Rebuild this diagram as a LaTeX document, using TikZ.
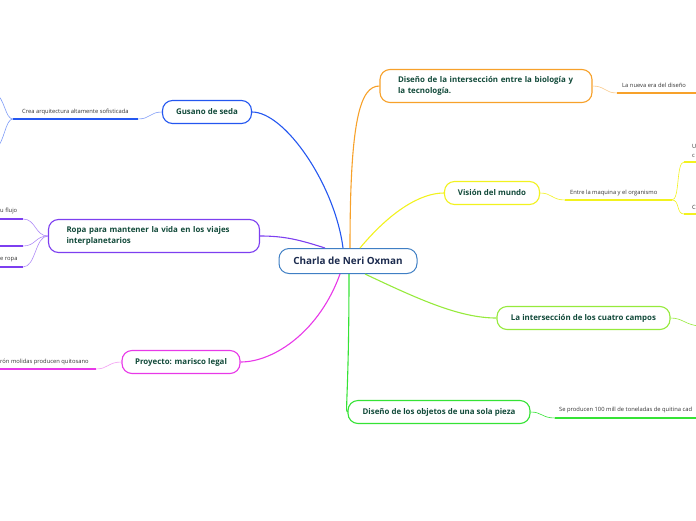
\documentclass[tikz,border=0pt]{standalone}
\usepackage{fontspec}
\setmainfont{Open Sans}
\usepackage{tikz}
\usepackage{xcolor}

\definecolor{rootline}{HTML}{3F7FC4}
\definecolor{roottext}{HTML}{1C2B4E}
\definecolor{nodetext}{HTML}{124A3A}
\definecolor{silk}{HTML}{2457F0}
\definecolor{silklight}{HTML}{7E9BF7}
\definecolor{suit}{HTML}{7D3FF0}
\definecolor{suitlight}{HTML}{B08CF7}
\definecolor{shell}{HTML}{E838E8}
\definecolor{shelllight}{HTML}{F29CF2}
\definecolor{design}{HTML}{F7A12A}
\definecolor{designlight}{HTML}{F9C98A}
\definecolor{vision}{HTML}{F2F21E}
\definecolor{fields}{HTML}{96EA3C}
\definecolor{piece}{HTML}{35E335}

\tikzset{
  rootbox/.style={draw=rootline, line width=1pt, rounded corners=10pt, fill=white, text=roottext,
    font=\fontsize{9.9}{11}\selectfont\bfseries, minimum height=25pt, inner sep=0pt},
  mainbox/.style={draw=#1, line width=1.1pt, rounded corners=10pt, fill=white, text=nodetext,
    font=\fontsize{7.9}{11}\selectfont\bfseries, minimum height=23pt, inner sep=0pt},
  leaf/.style={font=\fontsize{5.8}{6}\selectfont, text=black!80, inner sep=0pt, anchor=west},
  branch/.style={draw=#1, line width=1.1pt},
  twig/.style={draw=#1, line width=0.6pt},
  bar/.style={draw=#1, line width=1.6pt},
}

\begin{document}
\begin{tikzpicture}[x=1pt, y=-1pt]
    \useasboundingbox (0,0) rectangle (696,520);
    % Centre
    \node[rootbox, minimum width=138pt] (root) at (348,261) {Charla de Neri Oxman};
    % Main topics
    \node[mainbox=silk, minimum width=89pt] (gusano) at (207,112) {Gusano de seda};
    \node[mainbox=suit, text width=175pt, align=left, inner xsep=18pt, minimum height=33pt] (ropa) at (154,236)
        {Ropa para mantener la vida en los viajes\\interplanetarios};
    \node[mainbox=shell, minimum width=118pt] (proyecto) at (181,362) {Proyecto: marisco legal};
    \node[mainbox=design, text width=176pt, align=left, inner xsep=18pt, minimum height=33pt] (diseno) at (486,86)
        {Diseño de la intersección entre la biología y\\la tecnología.};
    \node[mainbox=vision, minimum width=95pt] (vision) at (492,193) {Visión del mundo};
    \node[mainbox=fields, minimum width=173pt] (campos) at (583.5,318) {La intersección de los cuatro campos};
    \node[mainbox=piece, minimum width=182pt] (piezas) at (439,412) {Diseño de los objetos de una sola pieza};
    % Branches from the centre
    \draw[branch=silk] ([xshift=-5pt]root.north) .. controls (335,185) and (285,112) .. (gusano.east);
    \draw[branch=suit] ([xshift=-23pt]root.north) .. controls (300,240) and (285,236) .. (ropa.east);
    \draw[branch=shell] ([xshift=-8pt]root.south) .. controls (320,330) and (275,362) .. (proyecto.east);
    \draw[branch=design] ([xshift=2pt]root.north) .. controls (350,120) and (360,86) .. (diseno.west);
    \draw[branch=vision] ([xshift=12pt]root.north) .. controls (390,212) and (420,193) .. (vision.west);
    \draw[branch=fields] ([xshift=17pt]root.south) .. controls (420,300) and (460,318) .. (campos.west);
    \draw[branch=piece] ([xshift=1pt]root.south) .. controls (349,390) and (345,412) .. (piezas.west);
    % Gusano de seda
    \node[leaf] (crea) at (22,112) {Crea arquitectura altamente sofisticada};
    \coordinate (creaR) at (138,119);
    \coordinate (creaL) at (13,119);
    \coordinate (creaUp) at (-5,93);
    \coordinate (creaDown) at (-5,150);
    \draw[twig=silklight] (gusano.west) .. controls (150,112) and (150,119) .. (creaR);
    \draw[bar=silk] (creaR) -- (creaL);
    \draw[twig=silklight] (creaL) .. controls (5,119) and (5,98) .. (creaUp);
    \draw[twig=silklight] (creaL) .. controls (5,119) and (5,142) .. (creaDown);
    % Ropa
    \node[leaf] (flujo) at (0,211) {u flujo};
    \node[leaf] (traje) at (0,259.5) {e ropa};
    \coordinate (flujoR) at (23,219);
    \coordinate (flujoL) at (-5,219);
    \coordinate (midR) at (23,246);
    \coordinate (midL) at (-5,246);
    \coordinate (trajeR) at (23,267);
    \coordinate (trajeL) at (-5,267);
    \draw[twig=suitlight] (ropa.west) .. controls (35,236) and (36,219) .. (flujoR);
    \draw[twig=suitlight] (ropa.west) .. controls (35,236) and (36,246) .. (midR);
    \draw[twig=suitlight] (ropa.west) .. controls (35,236) and (36,267) .. (trajeR);
    \draw[bar=suit] (flujoR) -- (flujoL);
    \draw[bar=suit] (midR) -- (midL);
    \draw[bar=suit] (trajeR) -- (trajeL);
    % Proyecto
    \node[leaf] (quito) at (0,362) {rón molidas producen quitosano};
    \coordinate (quitoR) at (96,369);
    \coordinate (quitoL) at (-5,369);
    \draw[twig=shelllight] (proyecto.west) .. controls (108,362) and (108,369) .. (quitoR);
    \draw[bar=shell] (quitoR) -- (quitoL);
    % Diseno de la interseccion
    \node[leaf] (era) at (622,85) {La nueva era del diseño};
    \coordinate (eraL) at (617,93);
    \coordinate (eraR) at (700,93);
    \draw[twig=designlight] (diseno.east) .. controls (605,86) and (605,93) .. (eraL);
    \draw[bar=design] (eraL) -- (eraR);
    % Vision del mundo
    \node[leaf] (maquina) at (570,193) {Entre la maquina y el organismo};
    \coordinate (maquinaL) at (565,200);
    \coordinate (maquinaR) at (672,200);
    \draw[twig=vision] (vision.east) .. controls (552,193) and (552,200) .. (maquinaL);
    \draw[bar=vision] (maquinaL) -- (maquinaR);
    \node[leaf] (upA) at (692,146) {U};
    \node[leaf] (upB) at (692,156) {c};
    \node[leaf] (down) at (692,207) {C};
    \coordinate (upL) at (684,162);
    \coordinate (upR) at (700,162);
    \coordinate (downL) at (684,214);
    \coordinate (downR) at (700,214);
    \draw[twig=vision] (maquinaR) .. controls (680,200) and (676,162) .. (upL);
    \draw[twig=vision] (maquinaR) .. controls (680,200) and (676,214) .. (downL);
    \draw[bar=vision] (upL) -- (upR);
    \draw[bar=vision] (downL) -- (downR);
    % Cuatro campos
    \coordinate (camposEnd) at (700,326);
    \draw[twig=fields] (campos.east) .. controls (683,318) and (685,325) .. (camposEnd);
    % Una sola pieza
    \node[leaf] (quitina) at (559,410) {Se producen 100 mill de toneladas de quitina cad};
    \coordinate (quitinaL) at (555,418);
    \coordinate (quitinaR) at (700,418);
    \draw[twig=piece] (piezas.east) .. controls (542,412) and (542,418) .. (quitinaL);
    \draw[bar=piece] (quitinaL) -- (quitinaR);
\end{tikzpicture}
\end{document}
